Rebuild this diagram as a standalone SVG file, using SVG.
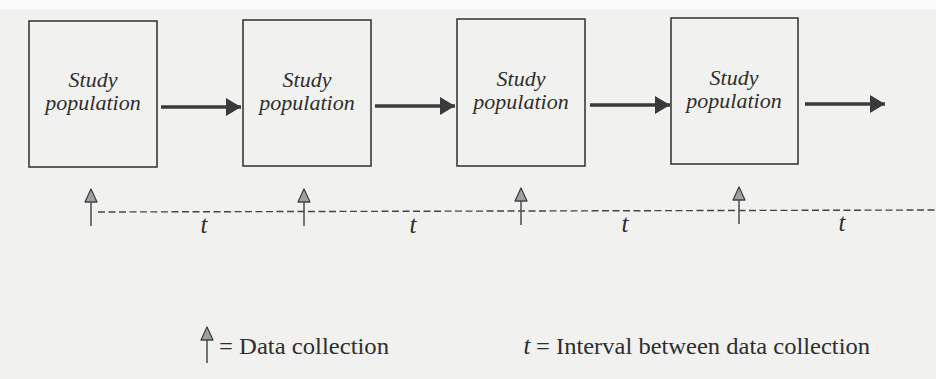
<svg xmlns="http://www.w3.org/2000/svg" width="936" height="379" viewBox="0 0 936 379">
<style>
.box{fill:none;stroke:#3a3a3a;stroke-width:1.6}
.lbl{font-family:'Liberation Serif','DejaVu Serif',serif;font-style:italic;font-size:22px;fill:#2e2e2e;text-anchor:middle}
.flow{stroke:#3a3a3a;stroke-width:3.5;fill:none;marker-end:url(#bigHead)}
.dc{stroke:#555;stroke-width:1.6;fill:none;marker-end:url(#dcHead)}
.dash{stroke:#444;stroke-width:1.4;stroke-dasharray:7 3.5;fill:none}
.t{font-family:'Liberation Serif','DejaVu Serif',serif;font-style:italic;font-size:25px;fill:#2e2e2e;text-anchor:middle}
.leg{font-family:'Liberation Serif','DejaVu Serif',serif;font-size:23px;fill:#2e2e2e}
</style>
<defs>
<marker id="bigHead" markerUnits="userSpaceOnUse" markerWidth="16" markerHeight="20" refX="15" refY="9" orient="auto" viewBox="0 0 16 20">
<path d="M0,0 L15,9 L0,18 z" fill="#3a3a3a"/>
</marker>
<marker id="dcHead" markerUnits="userSpaceOnUse" markerWidth="16" markerHeight="16" refX="14" refY="7" orient="auto" viewBox="0 0 16 16">
<path d="M1,1 L14,7 L1,13 z" fill="#a0a0a0" stroke="#444" stroke-width="1.3" stroke-linejoin="round"/>
</marker>
</defs>
<rect x="0" y="0" width="936" height="379" fill="#f1f1ef"/>
<rect x="0" y="0" width="936" height="9" fill="#fbfbfb"/>

<g id="node1">
<rect class="box" x="29" y="21" width="128" height="146"/>
<text class="lbl" x="93" y="87">Study</text>
<text class="lbl" x="93" y="110">population</text>
</g>
<g id="node2">
<rect class="box" x="243" y="20" width="128" height="146"/>
<text class="lbl" x="307" y="87">Study</text>
<text class="lbl" x="307" y="110">population</text>
</g>
<g id="node3">
<rect class="box" x="457" y="19" width="128" height="147"/>
<text class="lbl" x="521" y="86">Study</text>
<text class="lbl" x="521" y="109">population</text>
</g>
<g id="node4">
<rect class="box" x="671" y="18" width="127" height="146"/>
<text class="lbl" x="734" y="85">Study</text>
<text class="lbl" x="734" y="108">population</text>
</g>

<g id="connectors">
<line class="flow" x1="161" y1="107" x2="241" y2="107"/>
<line class="flow" x1="375" y1="106" x2="455" y2="106"/>
<line class="flow" x1="590" y1="105" x2="670" y2="105"/>
<line class="flow" x1="805" y1="104" x2="885" y2="104"/>
</g>

<g id="timeline">
<line class="dash" x1="98" y1="212" x2="936" y2="210"/>
<line class="dc" x1="91" y1="226" x2="91" y2="189"/>
<line class="dc" x1="304" y1="226" x2="304" y2="189"/>
<line class="dc" x1="521" y1="225" x2="521" y2="188"/>
<line class="dc" x1="739" y1="224" x2="739" y2="187"/>
<text class="t" x="204" y="233">t</text>
<text class="t" x="413" y="233">t</text>
<text class="t" x="625" y="232">t</text>
<text class="t" x="842" y="231">t</text>
</g>

<g id="legend">
<line class="dc" x1="207" y1="363" x2="207" y2="327"/>
<text class="leg" x="219" y="354" textLength="170" lengthAdjust="spacingAndGlyphs">= Data collection</text>
<text class="t" x="527" y="354">t</text>
<text class="leg" x="536" y="354" textLength="334" lengthAdjust="spacingAndGlyphs">= Interval between data collection</text>
</g>
</svg>
